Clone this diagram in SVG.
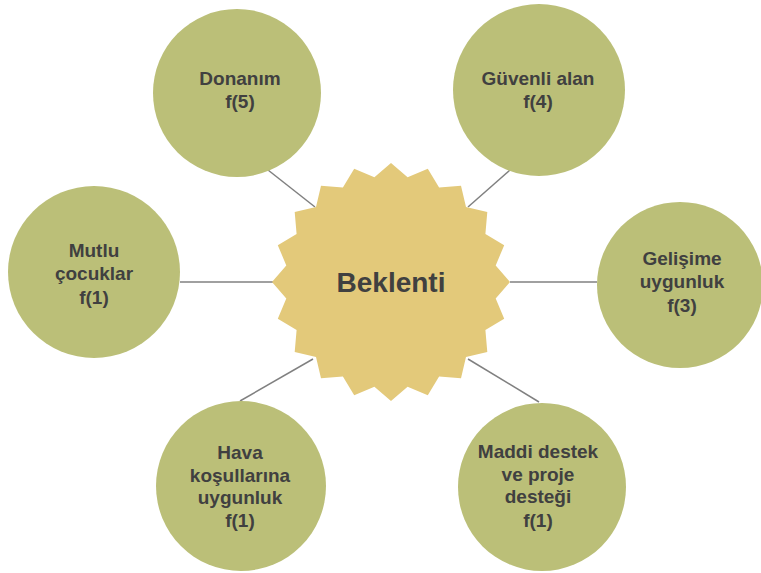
<svg xmlns="http://www.w3.org/2000/svg" width="761" height="573" viewBox="0 0 761 573">
<style>
.bg{fill:#ffffff}
.c{fill:#BBBF78}
.star{fill:#E3C97A}
.t{font-family:"Liberation Sans",Arial,sans-serif;font-weight:bold;font-size:19px;fill:#404040;text-anchor:middle}
.big{font-size:28px}
.ln{stroke:#808080;stroke-width:1.5;fill:none}
</style>
<rect class="bg" x="0" y="0" width="761" height="573"/>
<g id="connectors">
<line class="ln" x1="268" y1="170" x2="315" y2="207"/>
<line class="ln" x1="510" y1="170" x2="468" y2="207"/>
<line class="ln" x1="180" y1="282" x2="273" y2="282"/>
<line class="ln" x1="510" y1="282" x2="597" y2="282"/>
<line class="ln" x1="313" y1="359" x2="240" y2="401"/>
<line class="ln" x1="468" y1="359" x2="539" y2="402"/>
</g>
<g id="center">
<polygon class="star" points="391,163 407.6,177.3 427.8,168.8 439.1,187.6 461,185.7 466,207 487.3,212 485.4,233.9 504.2,245.2 495.7,265.4 510,282 495.7,298.6 504.2,318.8 485.4,330.1 487.3,352 466,357 461,378.3 439.1,376.4 427.8,395.2 407.6,386.7 391,401 374.4,386.7 354.2,395.2 342.9,376.4 321,378.3 316,357 294.7,352 296.6,330.1 277.8,318.8 286.3,298.6 272,282 286.3,265.4 277.8,245.2 296.6,233.9 294.7,212 316,207 321,185.7 342.9,187.6 354.2,168.8 374.4,177.3"/>
<text class="t big" x="391" y="292">Beklenti</text>
</g>
<g id="donanim">
<circle class="c" cx="237" cy="93" r="84"/>
<text class="t" x="240" y="85">Donanım</text>
<text class="t" x="240" y="108">f(5)</text>
</g>
<g id="guvenli">
<circle class="c" cx="539" cy="90" r="86"/>
<text class="t" x="538" y="85">Güvenli alan</text>
<text class="t" x="538" y="108">f(4)</text>
</g>
<g id="mutlu">
<circle class="c" cx="94" cy="272" r="86"/>
<text class="t" x="94" y="257">Mutlu</text>
<text class="t" x="94" y="280">çocuklar</text>
<text class="t" x="94" y="304">f(1)</text>
</g>
<g id="gelisime">
<circle class="c" cx="680" cy="285" r="83"/>
<text class="t" x="682" y="265">Gelişime</text>
<text class="t" x="682" y="288">uygunluk</text>
<text class="t" x="682" y="312">f(3)</text>
</g>
<g id="hava">
<circle class="c" cx="241" cy="486" r="85"/>
<text class="t" x="240" y="459">Hava</text>
<text class="t" x="240" y="482">koşullarına</text>
<text class="t" x="240" y="504">uygunluk</text>
<text class="t" x="240" y="527">f(1)</text>
</g>
<g id="maddi">
<circle class="c" cx="542" cy="487" r="84"/>
<text class="t" x="538" y="458">Maddi destek</text>
<text class="t" x="538" y="481">ve proje</text>
<text class="t" x="538" y="503">desteği</text>
<text class="t" x="538" y="527">f(1)</text>
</g>
</svg>
